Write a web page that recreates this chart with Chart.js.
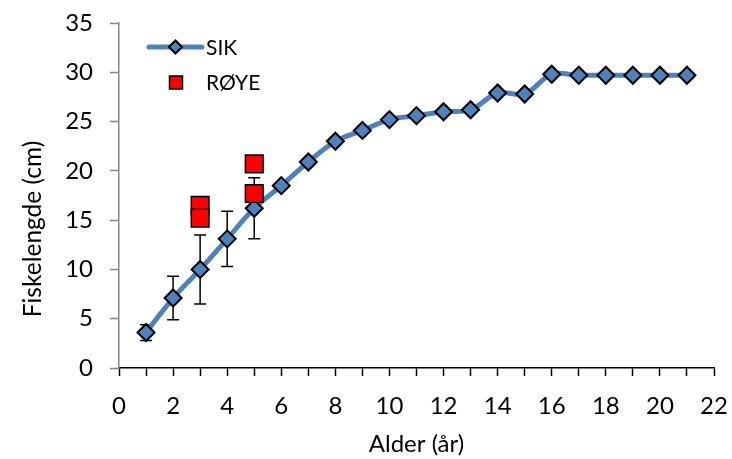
<!DOCTYPE html>
<html><head><meta charset="utf-8">
<script src="https://cdn.jsdelivr.net/npm/chart.js@4"></script>
<style>html,body{margin:0;padding:0;background:#fff}#wrap{width:732px;height:459px}</style>
</head><body><div id="wrap"><canvas id="c" width="732" height="459"></canvas></div>
<script>
const sikAges = [1,2,3,4,5,6,7,8,9,10,11,12,13,14,15,16,17,18,19,20,21];
const sikLength = [3.6,7.1,10.0,13.1,16.2,18.5,20.9,23.0,24.1,25.2,25.6,26.0,26.2,27.9,27.8,29.8,29.7,29.7,29.7,29.7,29.7];
const sikError = [0.8,2.2,3.5,2.8,3.1,null,null,null,null,null,null,null,null,null,null,null,null,null,null,null,null];
const royeAges = [3,3,5,5];
const royeLength = [16.5,15.2,20.7,17.7];
const seriesNames = ['SIK','RØYE'];
const xTitle = 'Alder (år)';
const yTitle = 'Fiskelengde (cm)';

const FONT = 'Lato, Carlito, Calibri, sans-serif';
const BLUE = '#4F81BD';

const errorBars = {
  id: 'errorBars',
  beforeDatasetsDraw(chart) {
    const {ctx, scales: {x, y}} = chart;
    ctx.save();
    ctx.strokeStyle = '#000';
    ctx.lineWidth = 1.5;
    sikAges.forEach((a, i) => {
      const e = sikError[i];
      if (e == null) return;
      const px = x.getPixelForValue(a);
      const t = y.getPixelForValue(sikLength[i] + e);
      const b = y.getPixelForValue(sikLength[i] - e);
      ctx.beginPath();
      ctx.moveTo(px, t); ctx.lineTo(px, b);
      ctx.moveTo(px - 6, t); ctx.lineTo(px + 6, t);
      ctx.moveTo(px - 6, b); ctx.lineTo(px + 6, b);
      ctx.stroke();
    });
    ctx.restore();
  }
};

const customText = {
  id: 'customText',
  afterDraw(chart) {
    const ctx = chart.ctx;
    ctx.save();
    ctx.fillStyle = '#000';
    ctx.font = '24.5px ' + FONT;
    ctx.textAlign = 'center';
    ctx.textBaseline = 'middle';
    ctx.translate(33, 229);
    ctx.rotate(-Math.PI / 2);
    ctx.fillText(yTitle, 0, 0);
    ctx.restore();

    ctx.save();
    ctx.strokeStyle = BLUE;
    ctx.lineWidth = 5;
    ctx.lineCap = 'round';
    ctx.beginPath();
    ctx.moveTo(149, 47); ctx.lineTo(202, 47);
    ctx.stroke();
    ctx.fillStyle = BLUE;
    ctx.strokeStyle = '#000';
    ctx.lineWidth = 2;
    ctx.beginPath();
    ctx.moveTo(169, 47); ctx.lineTo(175.5, 40.5); ctx.lineTo(182, 47); ctx.lineTo(175.5, 53.5); ctx.closePath();
    ctx.fill(); ctx.stroke();
    ctx.fillStyle = '#FF0000';
    ctx.lineWidth = 1.5;
    ctx.fillRect(169.5, 76, 13, 13);
    ctx.strokeRect(169.5, 76, 13, 13);
    ctx.fillStyle = '#000';
    ctx.font = '21px ' + FONT;
    ctx.textAlign = 'left';
    ctx.textBaseline = 'middle';
    ctx.fillText(seriesNames[0], 206, 48);
    ctx.fillText(seriesNames[1], 206, 83);
    ctx.restore();
  }
};

new Chart(document.getElementById('c'), {
  type: 'scatter',
  data: {
    datasets: [
      {
        label: seriesNames[0],
        data: sikAges.map((a, i) => ({x: a, y: sikLength[i]})),
        showLine: true,
        borderColor: BLUE,
        borderWidth: 5,
        tension: 0.35,
        pointStyle: 'rectRot',
        pointRadius: 8.5,
        pointHoverRadius: 8.5,
        pointBackgroundColor: BLUE,
        pointBorderColor: '#000',
        pointBorderWidth: 2,
        order: 2
      },
      {
        label: seriesNames[1],
        data: royeAges.map((a, i) => ({x: a, y: royeLength[i]})),
        showLine: false,
        pointStyle: 'rect',
        pointRadius: 12.5,
        pointHoverRadius: 12.5,
        pointBackgroundColor: '#FF0000',
        pointBorderColor: '#000',
        pointBorderWidth: 1.5,
        order: 1
      }
    ]
  },
  options: {
    responsive: false,
    animation: false,
    events: [],
    layout: {padding: {top: 23, right: 18, left: 0, bottom: 0}},
    plugins: {legend: {display: false}, tooltip: {enabled: false}},
    scales: {
      x: {
        type: 'linear', min: 0, max: 22,
        afterFit(s) { s.height = 91; s.paddingLeft = 0; s.paddingRight = 0; },
        ticks: {
          stepSize: 1, autoSkip: false, maxRotation: 0, padding: 16,
          color: '#000', font: {family: FONT, size: 24},
          callback: v => (v % 2 === 0 ? String(v) : '')
        },
        grid: {drawOnChartArea: false, drawTicks: true, tickLength: 8, color: '#000', tickWidth: 1.5},
        border: {color: '#000', width: 1.5},
        title: {display: true, text: xTitle, color: '#000', font: {family: FONT, size: 24}, padding: {top: 0, bottom: 0}}
      },
      y: {
        min: 0, max: 35,
        afterFit(s) { s.width = 119; s.paddingTop = 0; s.paddingBottom = 0; },
        ticks: {stepSize: 5, padding: 17, color: '#000', font: {family: FONT, size: 24}},
        grid: {drawOnChartArea: false, drawTicks: true, tickLength: 9, color: '#868686', tickWidth: 1.5},
        border: {color: '#868686', width: 1.5}
      }
    }
  },
  plugins: [errorBars, customText]
});
</script>
</body></html>
